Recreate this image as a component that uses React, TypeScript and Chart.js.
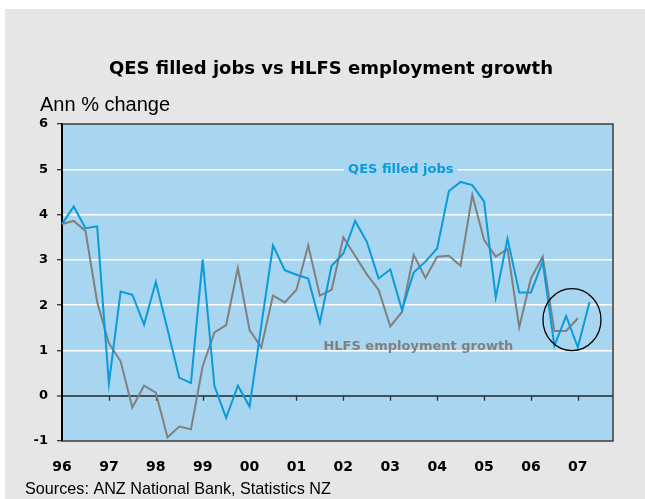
import React, { useEffect, useRef } from 'react';
import { Chart, registerables } from 'chart.js';

Chart.register(...registerables);

// ---- data ----
const years = ['96', '97', '98', '99', '00', '01', '02', '03', '04', '05', '06', '07'];
const quarterNames = ['Mar', 'Jun', 'Sep', 'Dec'];
const quarterLabels = years.flatMap((y) => quarterNames.map((q) => `${q}-${y}`));

const qesFilledJobs = [
  3.79, 4.18, 3.7, 3.74, 0.27, 2.3, 2.23, 1.57, 2.51, 1.47, 0.4, 0.28,
  3.01, 0.22, -0.49, 0.22, -0.24, 1.55, 3.32, 2.77, 2.67, 2.59, 1.62, 2.87,
  3.14, 3.86, 3.4, 2.59, 2.79, 1.89, 2.72, 2.96, 3.25, 4.52, 4.72, 4.65,
  4.29, 2.17, 3.47, 2.28, 2.28, 2.96, 1.1, 1.76, 1.07, 2.07,
];

const hlfsEmployment = [
  3.79, 3.86, 3.64, 2.07, 1.16, 0.76, -0.26, 0.22, 0.07, -0.92, -0.68, -0.74,
  0.65, 1.4, 1.56, 2.82, 1.45, 1.07, 2.21, 2.06, 2.34, 3.32, 2.21, 2.34,
  3.5, 3.09, 2.68, 2.34, 1.53, 1.85, 3.11, 2.6, 3.07, 3.09, 2.87, 4.43,
  3.44, 3.07, 3.24, 1.51, 2.59, 3.07, 1.43, 1.43, 1.71,
];

const yMin = -1;
const yMax = 6;

const titleText = 'QES filled jobs vs HLFS employment growth';
const yAxisTitle = 'Ann % change';
const sourceText = 'Sources: ANZ National Bank, Statistics NZ';
const qesLabel = 'QES filled jobs';
const hlfsLabel = 'HLFS employment growth';

// ---- styles ----
const PAGE_BG = '#e6e6e6';
const PLOT_BG = '#a8d5ef';
const BLUE = '#0a9bd8';
const GREY = '#808080';
const FRAME = '#3c3c3c';
const ZERO = '#44505c';
const VERDANA = '"DejaVu Sans", Verdana, sans-serif';
const ARIAL = '"Liberation Sans", Arial, sans-serif';

// anchor positions (in data units) for the in-plot annotations
const qesLabelAt = { x: 28.9, y: 5 };
const hlfsLabelAt = { x: 30.4, y: 1.09 };
const circleAt = { x: 43.5, y: 1.68 };

const decorPlugin = {
  id: 'decor',
  beforeDraw(chart: any) {
    const { ctx, chartArea: a, width, height } = chart;
    ctx.save();
    ctx.fillStyle = PAGE_BG;
    ctx.fillRect(0, 0, width, height);
    ctx.fillStyle = PLOT_BG;
    ctx.fillRect(a.left, a.top, a.right - a.left, a.bottom - a.top);
    ctx.restore();
  },
  beforeDatasetsDraw(chart: any) {
    const { ctx, chartArea: a } = chart;
    const xs = chart.scales.x;
    const ys = chart.scales.y;
    const y0 = ys.getPixelForValue(0);
    ctx.save();
    // year tick marks on the zero line
    ctx.strokeStyle = '#333';
    ctx.lineWidth = 1.3;
    xs.ticks.forEach((t: any) => {
      if (t.value === 0) return;
      const px = Math.round(xs.getPixelForValue(t.value)) + 0.5;
      ctx.beginPath();
      ctx.moveTo(px, y0);
      ctx.lineTo(px, y0 + 5);
      ctx.stroke();
    });
    // frame (top, right, bottom)
    ctx.strokeStyle = FRAME;
    ctx.lineWidth = 1.5;
    ctx.beginPath();
    ctx.moveTo(a.left, a.top);
    ctx.lineTo(a.right, a.top);
    ctx.lineTo(a.right, a.bottom);
    ctx.lineTo(a.left, a.bottom);
    ctx.stroke();
    ctx.restore();
  },
  afterDatasetsDraw(chart: any) {
    const { ctx } = chart;
    const xs = chart.scales.x;
    const ys = chart.scales.y;
    ctx.save();
    ctx.font = `bold 13px ${VERDANA}`;
    ctx.textAlign = 'center';
    ctx.textBaseline = 'middle';
    // QES label with background
    let cx = xs.getPixelForValue(qesLabelAt.x);
    let cy = ys.getPixelForValue(qesLabelAt.y);
    const w = ctx.measureText(qesLabel).width;
    ctx.fillStyle = PLOT_BG;
    ctx.fillRect(cx - w / 2 - 4, cy - 6, w + 8, 12);
    ctx.fillStyle = BLUE;
    ctx.fillText(qesLabel, cx, cy);
    // HLFS label
    cx = xs.getPixelForValue(hlfsLabelAt.x);
    cy = ys.getPixelForValue(hlfsLabelAt.y);
    ctx.fillStyle = GREY;
    ctx.fillText(hlfsLabel, cx, cy);
    // circle highlight
    const ccx = xs.getPixelForValue(circleAt.x);
    const ccy = ys.getPixelForValue(circleAt.y);
    ctx.strokeStyle = '#000';
    ctx.lineWidth = 1.3;
    ctx.beginPath();
    ctx.ellipse(ccx, ccy, 29, 31, 0, 0, Math.PI * 2);
    ctx.stroke();
    ctx.restore();
  },
  afterDraw(chart: any) {
    const { ctx } = chart;
    ctx.save();
    ctx.fillStyle = '#000';
    ctx.textBaseline = 'middle';
    ctx.textAlign = 'center';
    ctx.font = `bold 18px ${VERDANA}`;
    ctx.fillText(titleText, 326, 60);
    ctx.textAlign = 'left';
    ctx.font = `20px ${ARIAL}`;
    ctx.fillText(yAxisTitle, 35, 96);
    ctx.font = `16.2px ${ARIAL}`;
    ctx.fillText(sourceText, 20, 481);
    ctx.restore();
  },
};

export default function App() {
  const ref = useRef<HTMLCanvasElement>(null);

  useEffect(() => {
    if (!ref.current) return;
    const chart = new Chart(ref.current, {
      type: 'line',
      data: {
        labels: quarterLabels,
        datasets: [
          {
            label: qesLabel,
            data: qesFilledJobs,
            borderColor: BLUE,
            borderWidth: 2,
            pointRadius: 0,
            tension: 0,
            fill: false,
          },
          {
            label: hlfsLabel,
            data: hlfsEmployment,
            borderColor: GREY,
            borderWidth: 2,
            pointRadius: 0,
            tension: 0,
            fill: false,
          },
        ],
      },
      options: {
        responsive: false,
        animation: false,
        devicePixelRatio: 1,
        layout: { padding: { left: 0, right: 32, top: 115, bottom: 28 } },
        plugins: {
          legend: { display: false },
          title: { display: false },
          tooltip: { enabled: false },
        },
        scales: {
          x: {
            type: 'category',
            offset: false,
            grid: { display: false, drawTicks: false },
            border: { display: false },
            ticks: {
              autoSkip: false,
              maxRotation: 0,
              padding: 18,
              color: '#000',
              font: { family: VERDANA, size: 14, weight: 'bold' },
              callback: (value: any) => years[Number(value) / 4],
            },
            afterBuildTicks: (s: any) => {
              s.ticks = s.ticks.filter((t: any) => t.value % 4 === 0);
            },
            afterFit: (s: any) => {
              s.height = 30;
            },
          },
          y: {
            min: yMin,
            max: yMax,
            ticks: {
              stepSize: 1,
              padding: 9,
              color: '#000',
              font: { family: VERDANA, size: 13, weight: 'bold' },
            },
            grid: {
              drawTicks: true,
              tickLength: 5,
              tickColor: '#000',
              tickWidth: 1,
              color: (c: any) => {
                const v = c.tick?.value;
                if (v === 0) return ZERO;
                if (v === yMin || v === yMax) return 'rgba(0,0,0,0)';
                return '#ffffff';
              },
              lineWidth: (c: any) => (c.tick?.value === 0 ? 2 : 1.5),
            },
            border: { display: true, color: '#000', width: 2 },
            afterFit: (s: any) => {
              s.width = 57;
            },
          },
        },
      },
      plugins: [decorPlugin],
    } as any);
    return () => chart.destroy();
  }, []);

  return (
    <div
      style={{
        position: 'fixed',
        left: 5,
        top: 9,
        width: 640,
        height: 490,
        background: PAGE_BG,
      }}
    >
      <canvas ref={ref} width={640} height={490} style={{ display: 'block' }} />
    </div>
  );
}
